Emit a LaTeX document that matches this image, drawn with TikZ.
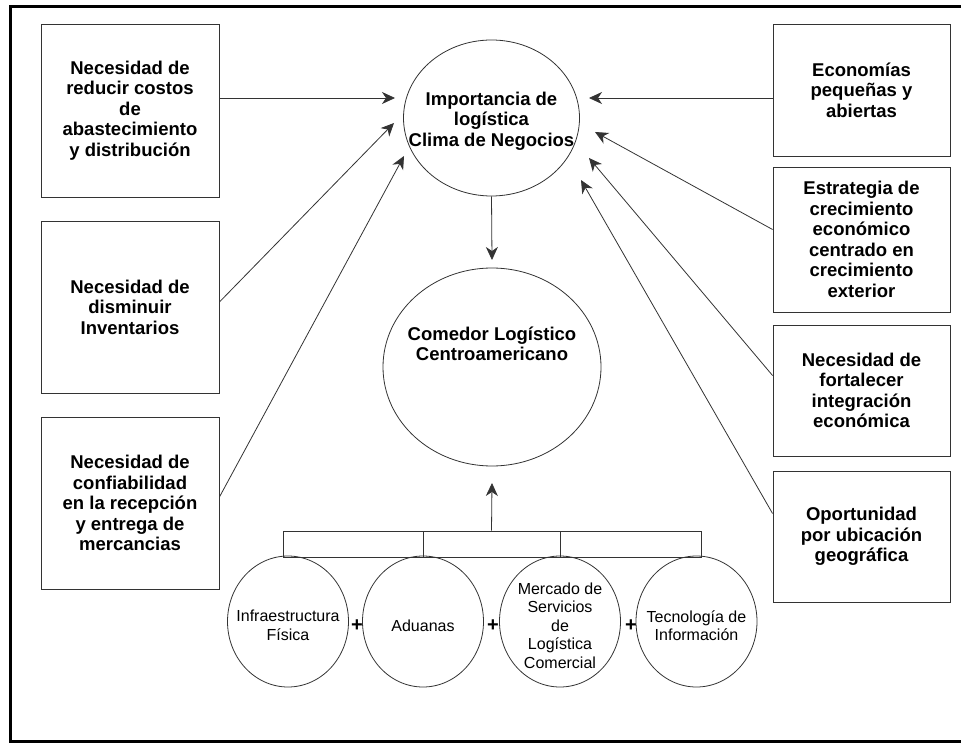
\documentclass[tikz,border=0pt]{standalone}
\usepackage{fontspec}
\setmainfont{Liberation Sans}
\usetikzlibrary{arrows.meta,shapes.geometric}
\definecolor{lc}{HTML}{333333}
\begin{document}
\begin{tikzpicture}[x=1pt,y=-1pt,
  bfont/.style={font=\fontsize{18.5}{20.5}\selectfont\bfseries},
  box/.style={draw=lc, line width=0.9pt, rectangle, align=center, inner sep=0pt, bfont},
  lbox/.style={box, minimum width=178pt},
  rbox/.style={box, minimum width=177pt},
  bigell/.style={draw=lc, line width=0.8pt, ellipse, inner sep=0pt},
  bigtxt/.style={align=center, inner sep=0pt, bfont},
  smallell/.style={draw=lc, line width=0.8pt, ellipse, inner sep=0pt,
    minimum width=121pt, minimum height=131pt},
  smalltxt/.style={align=center, inner sep=0pt, yshift=-4pt, font=\fontsize{16}{18.5}\selectfont},
  brk/.style={draw=lc, line width=0.8pt, rectangle, minimum height=26pt, inner sep=0pt},
  arr/.style={draw=lc, line width=0.8pt, -{Stealth[length=13pt,width=12pt,inset=4pt]}},
  plus/.style={font=\fontsize{20}{20}\selectfont\bfseries, inner sep=0pt}
]
\useasboundingbox (0,0) rectangle (961,743);
% frame
\draw[line width=3pt] (10.5,6.5) rectangle (980,741.5);

% left boxes
\node[lbox, minimum height=173pt] (b1) at (130,110.5) {Necesidad de\\reducir costos\\de\\abastecimiento\\y distribución};
\node[lbox, minimum height=172pt] (b2) at (130,307) {Necesidad de\\disminuir\\Inventarios};
\node[lbox, minimum height=172pt] (b3) at (130,503) {Necesidad de\\confiabilidad\\en la recepción\\y entrega de\\mercancias};

% right boxes
\node[rbox, minimum height=132pt] (r1) at (861.5,90) {Economías\\pequeñas y\\abiertas};
\node[rbox, minimum height=145pt] (r2) at (861.5,239.5) {Estrategia de\\crecimiento\\económico\\centrado en\\crecimiento\\exterior};
\node[rbox, minimum height=131pt] (r3) at (861.5,390.5) {Necesidad de\\fortalecer\\integración\\económica};
\node[rbox, minimum height=131pt] (r4) at (861.5,536.5) {Oportunidad\\por ubicación\\geográfica};

% central ellipses
\node[bigell, minimum width=176pt, minimum height=156pt,
  label={[bigtxt, yshift=-3pt]center:Importancia de\\logística\\Clima de Negocios}] (imp) at (491.5,118) {};
\node[bigell, minimum width=218pt, minimum height=198pt,
  label={[bigtxt, yshift=23pt]center:Comedor Logístico\\Centroamericano}] (com) at (492,367) {};

% arrow tips (free ends)
\coordinate (t1) at (395,98);
\coordinate (t2) at (394,123);
\coordinate (t3) at (404,156);
\coordinate (u1) at (589,98);
\coordinate (u2) at (595,132);
\coordinate (u3) at (589,158);
\coordinate (u4) at (581,180);
\coordinate (tdown) at (492,260);
\coordinate (tup) at (492,483);

\draw[arr] (b1.east |- t1) -- (t1);
\draw[arr] ([yshift=5pt]b2.east) -- (t2);
\draw[arr] ([yshift=6pt]b3.east) -- (t3);
\draw[arr] (r1.west |- u1) -- (u1);
\draw[arr] ([yshift=10pt]r2.west) -- (u2);
\draw[arr] ([yshift=15pt]r3.west) -- (u3);
\draw[arr] ([yshift=23pt]r4.west) -- (u4);
\draw[arr] (imp.south) -- (tdown);

% bracket
\node[brk, minimum width=140pt] (k1) at (353,544) {};
\node[brk, minimum width=137pt] (k2) at (491.5,544) {};
\node[brk, minimum width=141pt] (k3) at (630.5,544) {};
\draw[arr] (k2.north) -- (tup);

% bottom circles
\node[smallell, label={[smalltxt]center:Infraestructura\\Física}] (c1) at (288,621.5) {};
\node[smallell, label={[smalltxt]center:Aduanas}] (c2) at (423,621.5) {};
\node[smallell, label={[smalltxt]center:Mercado de\\Servicios\\de\\Logística\\Comercial}] (c3) at (560,621.5) {};
\node[smallell, label={[smalltxt]center:Tecnología de\\Información}] (c4) at (696.5,621.5) {};

\node[plus] (p1) at (357,626) {+};
\node[plus] (p2) at (493,626) {+};
\node[plus] (p3) at (631,626) {+};
\end{tikzpicture}
\end{document}
